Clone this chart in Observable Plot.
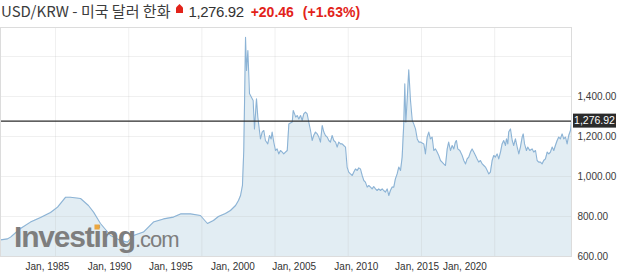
<!DOCTYPE html>
<html><head><meta charset="utf-8">
<script src="https://cdn.jsdelivr.net/npm/d3@7"></script>
<script src="https://cdn.jsdelivr.net/npm/@observablehq/plot@0.6"></script>
<style>
html,body{margin:0;padding:0;background:#fff;}
body{width:621px;height:280px;overflow:hidden;position:relative;font-family:Arial,"Liberation Sans",sans-serif;}
#title{position:absolute;left:1px;top:1px;height:24px;white-space:nowrap;font-size:15px;line-height:20px;}
#title .name{font-family:"Noto Sans CJK KR","Liberation Sans",sans-serif;color:#3c3c3c;letter-spacing:0px;}
#title .arrow{display:inline-block;vertical-align:top;margin:3px 5px 0 6px;}
#title .price{color:#333;font-size:15px;letter-spacing:-0.4px;}
#title .chg{color:#e2231a;font-weight:bold;font-size:14px;margin-left:7px;}
#title .pct{color:#e2231a;font-weight:bold;font-size:14px;margin-left:9px;}
#chart{position:absolute;left:0;top:26px;}
</style></head><body>
<div id="title"></div>
<div id="chart"></div>
<script>
// ---- data ----
const pairName = "USD/KRW - 미국 달러 한화";
const lastValue = 1276.92;
const change = 20.46;
const changePct = 1.63;

const years = [1981.24,1981.72,1981.93,1982.61,1983.29,1983.98,1984.66,1985.14,1985.68,1986.02,1986.71,1987.25,1987.60,1988.07,1988.76,1989.44,1989.92,1990.33,1991.01,1991.69,1992.38,1993.06,1993.54,1994.22,1994.90,
1995.38,1995.79,1996.13,1996.61,1996.95,1997.30,1997.50,1997.64,1997.77,1997.86,1997.93,1997.98,1998.05,1998.14,1998.25,1998.32,1998.50,1998.59,1998.73,1998.82,
1999.00,1999.12,1999.23,1999.34,1999.50,1999.62,1999.73,1999.80,1999.91,2000.03,2000.14,2000.25,2000.37,2000.49,2000.59,2000.71,2000.83,2000.94,2001.05,2001.17,
2001.24,2001.33,2001.41,2001.51,2001.62,2001.74,2001.85,2001.96,2002.08,2002.19,2002.30,2002.42,2002.53,2002.64,2002.76,2002.88,2002.99,2003.10,2003.22,2003.33,
2003.44,2003.56,2003.67,2003.78,2003.90,2004.01,2004.13,2004.24,2004.35,2004.47,2004.58,2004.69,2004.81,2004.92,2005.03,2005.15,2005.27,2005.38,2005.49,2005.61,
2005.72,2005.83,2005.95,2006.06,2006.17,2006.29,2006.40,2006.52,2006.63,2006.74,2006.86,2006.97,2007.08,2007.20,2007.32,2007.42,2007.54,2007.66,2007.77,2007.88,
2008.00,2008.11,2008.22,2008.34,2008.45,2008.57,2008.68,2008.79,2008.86,2008.93,2009.02,2009.13,2009.25,2009.37,2009.47,2009.59,2009.71,2009.82,2009.93,2010.16,
2010.27,2010.39,2010.50,2010.61,2010.73,2010.84,2010.96,2011.07,2011.18,2011.30,2011.41,2011.52,2011.64,2011.76,2011.86,2011.98,2012.10,2012.21,2012.32,2012.39,
2012.48,2012.62,2012.78,2012.89,2013.01,2013.12,2013.23,2013.35,2013.46,2013.57,2013.69,2013.80,2013.91,2014.03,2014.15,2014.26,2014.37,2014.49,2014.60,2014.71,
2014.83,2014.94,2015.05,2015.17,2015.28,2015.40,2015.51,2015.62,2015.74,2015.81,2015.90,2015.96,2016.08,2016.20,2016.30,2016.42,2016.54,2016.65,2016.76,2016.88,
2016.95,2017.04,2017.17,2017.26,2017.40,2017.56,2017.67,2017.79,2017.90,2018.01,2018.13,2018.24,2018.35,2018.47,2018.59,2018.70,2018.81,2018.93,2019.04,2019.15,
2019.27,2019.38,2019.49,2019.61,2019.72,2019.84,2019.95,2020.06,2020.18,2020.25];

const values = [683,688,697,740,772,795,820,847,896,896,890,855,822,765,705,680,672,705,722,772,788,797,813,813,805,
765,780,800,815,830,855,880,905,955,1130,1450,1696,1530,1630,1415,1405,1380,1238,1388,1297,
1188,1222,1230,1180,1163,1205,1188,1222,1172,1130,1138,1113,1130,1122,1113,1122,1130,1263,1267,1272,
1330,1313,1297,1305,1288,1305,1280,1313,1322,1313,1272,1230,1180,1205,1222,1213,1197,1172,1255,1222,
1205,1197,1180,1172,1205,1180,1172,1147,1172,1163,1163,1155,1147,1047,1022,1013,1005,1022,1038,1030,
1043,1038,1005,980,972,947,955,947,938,950,938,930,938,930,938,930,922,938,905,930,
947,947,988,1013,1047,1030,1097,1263,1463,1272,1380,1533,1380,1280,1263,1238,1188,1172,1172,1163,
1113,1197,1222,1188,1197,1130,1138,1122,1105,1080,1072,1063,1055,1138,1172,1130,1155,1138,1172,1180,
1138,1130,1105,1080,1063,1088,1097,1122,1138,1122,1105,1088,1072,1080,1063,1055,1047,1030,1013,1022,
1080,1105,1097,1113,1088,1122,1163,1180,1155,1188,1163,1222,1238,1180,1155,1188,1147,1113,1147,1197,
1213,1163,1130,1147,1130,1138,1122,1130,1080,1072,1072,1063,1080,1088,1122,1113,1122,1147,1130,1155,
1180,1197,1188,1213,1188,1197,1163,1205,1230,1277];

const yDomain = [600, 1745];
const yTicks = [600, 800, 1000, 1200, 1400];
const yGrid = [600, 800, 1000, 1200, 1400, 1600];
const gridYears = [1985, 1990, 1995, 2000, 2005, 2010, 2015];
const xLabels = ["Jan, 1985", "Jan, 1990", "Jan, 1995", "Jan, 2000", "Jan, 2005", "Jan, 2010", "Jan, 2015", "Jan, 2020"];
// where the reference actually prints each label along the time axis
const xLabelAt = [1984.45, 1988.70, 1992.88, 1997.12, 2001.30, 2005.55, 2009.70, 2012.97];

// ---- helpers ----
function toDate(y) {
  const yr = Math.floor(y);
  const a = Date.UTC(yr, 0, 1), b = Date.UTC(yr + 1, 0, 1);
  return new Date(a + (y - yr) * (b - a));
}
const data = years.map((y, i) => ({date: toDate(y), value: values[i]}));
const labelDates = xLabelAt.map(toDate);
const labelMap = new Map(labelDates.map((d, i) => [+d, xLabels[i]]));
const fmt2 = d3.format(",.2f");

// ---- title ----
document.getElementById("title").innerHTML =
  `<span class="name">${pairName}</span><svg class="arrow" width="7" height="9" viewBox="0 0 7 9"><polygon points="3.5,0 7,3.5 7,9 0,9 0,3.5" fill="#e2231a"/></svg>` +
  `<span class="price">${fmt2(lastValue)}</span><span class="chg">+${change.toFixed(2)}</span><span class="pct">(+${changePct.toFixed(2)}%)</span>`;

// ---- chart ----
const plot = Plot.plot({
  width: 621,
  height: 254,
  marginTop: 1,
  marginBottom: 24,
  marginLeft: 0,
  marginRight: 50,
  style: {fontFamily: "Arial, 'Liberation Sans', sans-serif", fontSize: "10px", color: "#333", background: "#fff"},
  x: {type: "utc", domain: d3.extent(data, d => d.date)},
  y: {domain: yDomain},
  marks: [
    Plot.areaY(data, {x: "date", y1: yDomain[0], y2: "value", fill: "#e2edf3", curve: "linear"}),
    Plot.gridY(yGrid, {stroke: "#bbb", strokeOpacity: 0.22}),
    Plot.gridX(gridYears.map(y => toDate(y)), {stroke: "#bbb", strokeOpacity: 0.22}),
    Plot.lineY(data, {x: "date", y: "value", stroke: "#8cb3d5", strokeWidth: 1.1}),
    Plot.ruleY([lastValue], {stroke: "#2b2b2b", strokeWidth: 1.4}),
    Plot.frame({stroke: "#dcdcdc"}),
    Plot.axisY(yTicks, {anchor: "right", tickSize: 0, tickPadding: 6, tickFormat: fmt2, fill: "#3a3a3a", label: null}),
    Plot.axisX(labelDates, {anchor: "bottom", tickSize: 0, tickPadding: 6, tickFormat: d => labelMap.get(+d), fill: "#333", label: null})
  ]
});
document.getElementById("chart").appendChild(plot);

// price badge at the right, positioned through the y scale
const svg = d3.select(plot);
const ys = plot.scale("y"), xs = plot.scale("x");
const by = ys.apply(lastValue);
const bx = xs.range[1] + 2;
const badge = svg.append("g");
badge.append("rect").attr("x", bx).attr("y", by - 7).attr("width", 43).attr("height", 14).attr("fill", "#2b2b2b");
badge.append("text").attr("x", bx + 21.5).attr("y", by).attr("dy", "0.35em").attr("text-anchor", "middle")
  .attr("fill", "#fff").attr("font-size", 10.5).text(fmt2(lastValue));

// Investing.com watermark
const wm = svg.append("g").attr("transform", `translate(14, ${ys.range[0] - 9.5})`);
const wt = wm.append("text").attr("x", 0).attr("y", 0).attr("fill", "#7e7e7e").attr("text-anchor", "start");
wt.append("tspan").attr("font-size", 30).attr("font-weight", "bold").attr("letter-spacing", "-1.2").text("Investing");
wt.append("tspan").attr("font-size", 22).attr("letter-spacing", "-1").text(".com");
try {
  const ext = wt.node().getExtentOfChar(6);
  wm.append("rect").attr("x", ext.x + ext.width / 2 - 2.6).attr("y", -22).attr("width", 5.2).attr("height", 5)
    .attr("fill", "#eba63f");
} catch (e) {}
</script>
</body></html>
